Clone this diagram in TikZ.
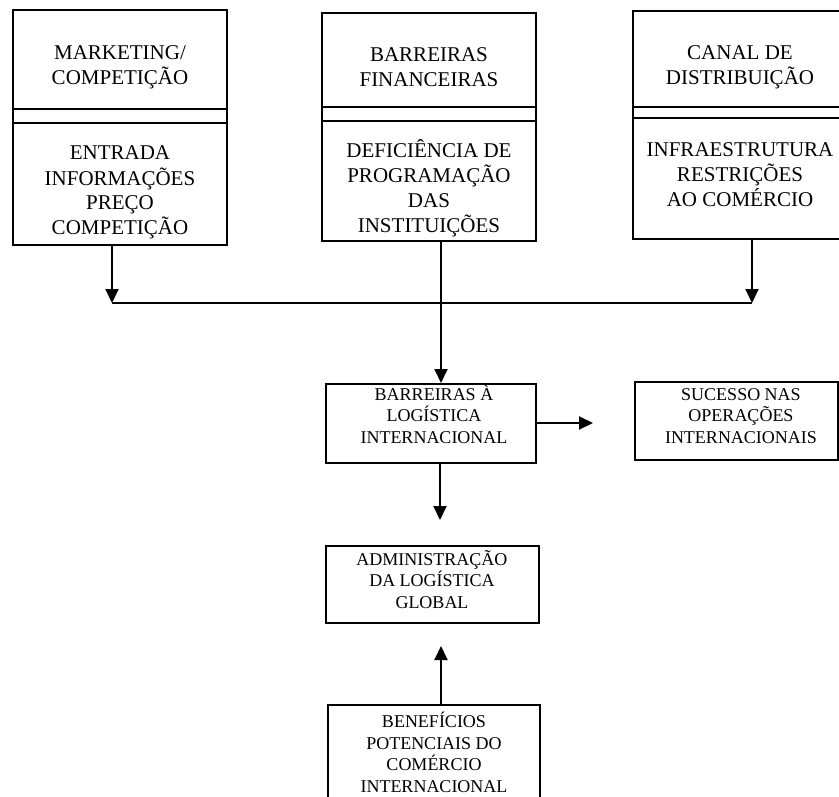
\documentclass[tikz,border=0pt]{standalone}
\usepackage{fontspec}
\setmainfont{Liberation Serif}
\usetikzlibrary{arrows.meta}
\begin{document}
\begin{tikzpicture}[x=1pt,y=-1pt,
  frame/.style={draw, line width=2pt, inner sep=0pt, anchor=north west},
  bigtext/.style={align=center, inner sep=0pt, anchor=base,
    font=\fontsize{21}{25}\selectfont},
  smalltext/.style={align=center, inner sep=0pt, anchor=base,
    font=\fontsize{18}{21.5}\selectfont},
  link/.style={line width=2pt},
  arr/.style={line width=2pt, -{Triangle[length=14pt,width=13pt]}}]
\clip (0,0) rectangle (839,797);
\fill[white] (0,0) rectangle (839,797);

% three source boxes, each split by a double rule
\node[frame, minimum width=214pt, minimum height=235pt] (m1) at (12,9) {};
\node[frame, minimum width=214pt, minimum height=228pt] (m2) at (321,12) {};
\node[frame, minimum width=218pt, minimum height=228pt] (m3) at (632,10) {};
\draw[link] (m1.west |- 0,109) -- (m1.east |- 0,109);
\draw[link] (m1.west |- 0,123) -- (m1.east |- 0,123);
\draw[link] (m2.west |- 0,107) -- (m2.east |- 0,107);
\draw[link] (m2.west |- 0,121) -- (m2.east |- 0,121);
\draw[link] (m3.west |- 0,107) -- (m3.east |- 0,107);
\draw[link] (m3.west |- 0,118) -- (m3.east |- 0,118);

% block texts, placed by the baseline of their last line
\node[bigtext] (t1a) at (120,85) {MARKETING/\\COMPETIÇÃO};
\node[bigtext] (t1b) at (120,235) {ENTRADA\\INFORMAÇÕES\\PREÇO\\COMPETIÇÃO};
\node[bigtext] (t2a) at (429,87) {BARREIRAS\\FINANCEIRAS};
\node[bigtext] (t2b) at (429,233) {DEFICIÊNCIA DE\\PROGRAMAÇÃO\\DAS\\INSTITUIÇÕES};
\node[bigtext] (t3a) at (740,85) {CANAL DE\\DISTRIBUIÇÃO};
\node[bigtext] (t3b) at (740,207) {INFRAESTRUTURA\\RESTRIÇÕES\\AO COMÉRCIO};

% central chain
\node[frame, minimum width=210pt, minimum height=79pt] (mid) at (325,383) {};
\node[frame, minimum width=203pt, minimum height=78pt] (suc) at (634,381) {};
\node[frame, minimum width=213pt, minimum height=77pt] (adm) at (325,545) {};
\node[frame, minimum width=212pt, minimum height=120pt] (ben) at (327,704) {};

\node[smalltext] (tmid) at (434,443) {BARREIRAS À\\LOGÍSTICA\\INTERNACIONAL};
\node[smalltext] (tsuc) at (741,443) {SUCESSO NAS\\OPERAÇÕES\\INTERNACIONAIS};
\node[smalltext] (tadm) at (432,608) {ADMINISTRAÇÃO\\DA LOGÍSTICA\\GLOBAL};
\node[smalltext] (tben) at (434,792) {BENEFÍCIOS\\POTENCIAIS DO\\COMÉRCIO\\INTERNACIONAL};

% collecting bus and arrows
\coordinate (busL) at (112,303);
\coordinate (busR) at (752,303);
\coordinate (spine) at (441,303);
\coordinate (rtip) at (593,423);
\coordinate (dtip) at (440,520);
\coordinate (utip) at (441,646);

\draw[link] (busL) -- (busR);
\draw[arr] (m1.south -| busL) -- (busL);
\draw[arr] (m3.south -| busR) -- (busR);
\draw[arr] (m2.south -| spine) -- (mid.north -| spine);
\draw[arr] (mid.east |- rtip) -- (rtip);
\draw[arr] (mid.south -| dtip) -- (dtip);
\draw[arr] (ben.north -| utip) -- (utip);
\end{tikzpicture}
\end{document}
